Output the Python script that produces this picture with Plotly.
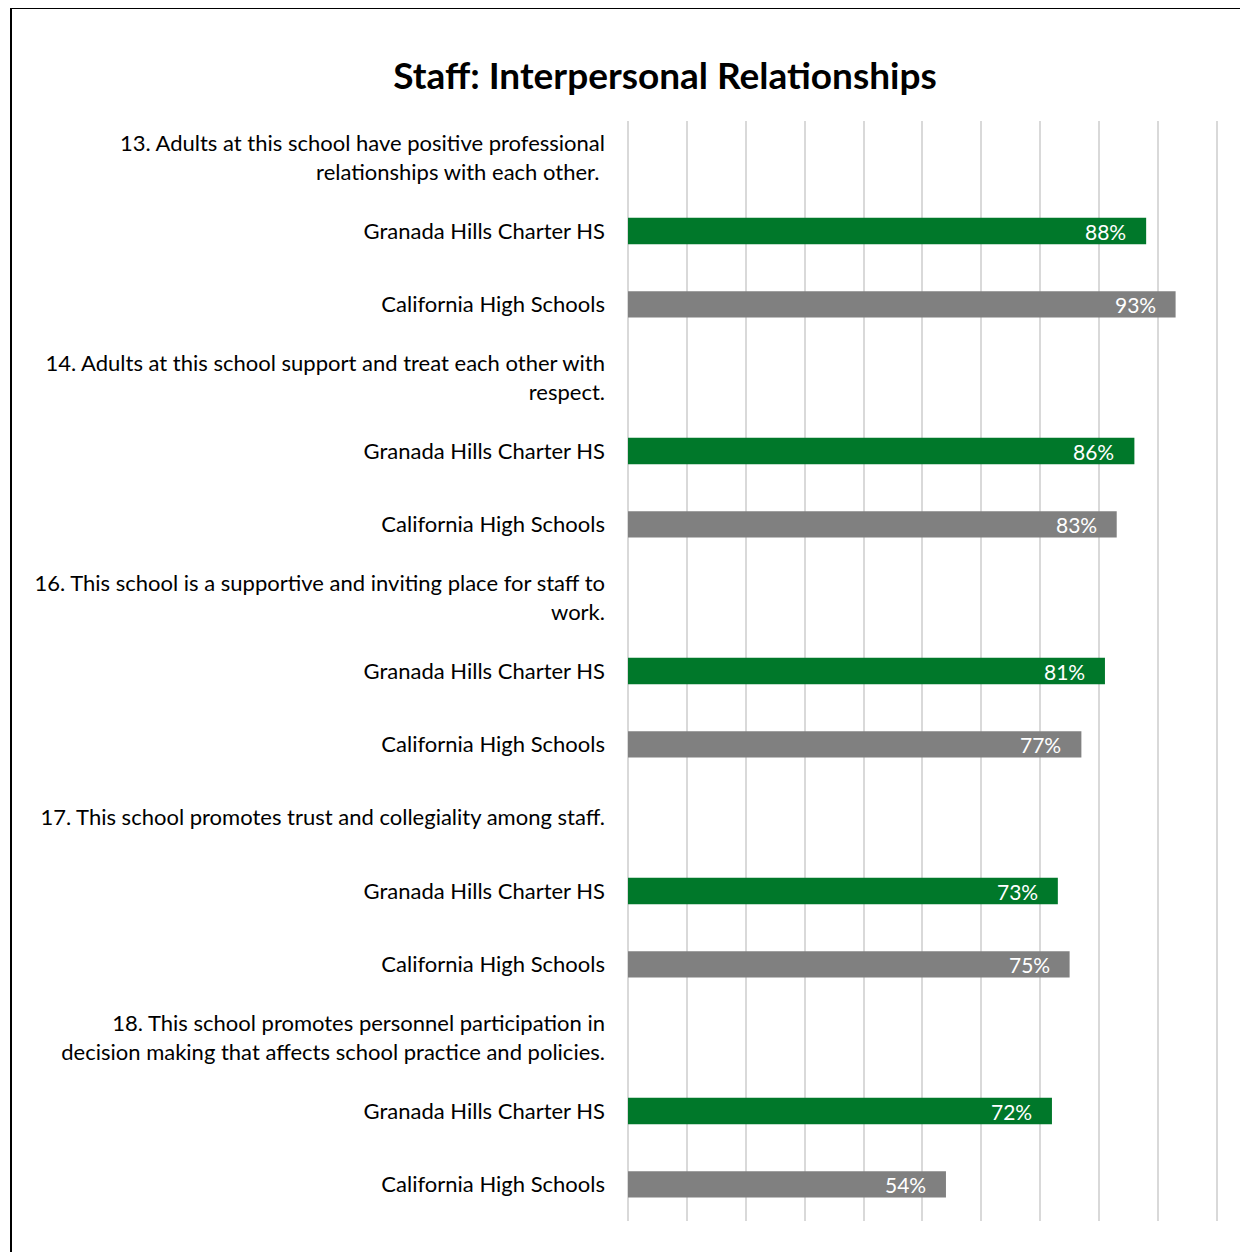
import plotly.graph_objects as go

title = "Staff: Interpersonal Relationships"
questions = [
    "13. Adults at this school have positive professional<br>relationships with each other.\u00a0",
    "14. Adults at this school support and treat each other with<br>respect.",
    "16. This school is a supportive and inviting place for staff to<br>work.",
    "17. This school promotes trust and collegiality among staff.",
    "18. This school promotes personnel participation in<br>decision making that affects school practice and policies.",
]
school_name = "Granada Hills Charter HS"
state_name = "California High Schools"
school_values = [0.88, 0.86, 0.81, 0.73, 0.72]
state_values = [0.93, 0.83, 0.77, 0.75, 0.54]

GREEN = "#00782A"
GREY = "#808080"
FONT = "Lato, 'Liberation Sans', sans-serif"
OFF = 8  # page body margin offset
W, H = 1248 - OFF, 1252 - OFF

tickvals, ticktext = [], []
school_y, state_y = [], []
for i, q in enumerate(questions):
    base = i * 3
    tickvals += [base, base + 1, base + 2]
    ticktext += [q, school_name, state_name]
    school_y.append(base + 1)
    state_y.append(base + 2)

fig = go.Figure()
fig.add_trace(go.Bar(x=school_values, y=school_y, orientation="h",
                     marker=dict(color=GREEN, line=dict(width=0)), width=0.36,
                     name=school_name, hoverinfo="x"))
fig.add_trace(go.Bar(x=state_values, y=state_y, orientation="h",
                     marker=dict(color=GREY, line=dict(width=0)), width=0.36,
                     name=state_name, hoverinfo="x"))

for xs, ys in ((school_values, school_y), (state_values, state_y)):
    for v, yy in zip(xs, ys):
        fig.add_annotation(x=v, y=yy, xref="x", yref="y", text=f"{round(v*100)}%",
                           showarrow=False, xanchor="right", xshift=-18,
                           font=dict(family=FONT, size=21, color="white"))

# outer frame
fig.add_shape(type="rect", xref="paper", yref="paper",
              x0=(11 - 628) / 590, x1=(1275 - 628) / 590,
              y0=(1221 - 1280) / 1100, y1=(1221 - 8) / 1100,
              line=dict(color="black", width=2), fillcolor="rgba(0,0,0,0)", layer="below")

fig.update_layout(
    width=W, height=H,
    margin=dict(l=628 - OFF, r=W - (1218 - OFF), t=121 - OFF, b=H - (1221 - OFF)),
    paper_bgcolor="white", plot_bgcolor="white",
    showlegend=False, barmode="overlay",
    title=dict(text=f"<b>{title}</b>", x=(665 - OFF) / W, xanchor="center", xref="container",
               y=1 - (76 - OFF) / H, yanchor="middle", yref="container",
               font=dict(family=FONT, size=37, color="black")),
    font=dict(family=FONT, size=22, color="black"),
)
fig.update_xaxes(range=[0, 1.002], dtick=0.1, tick0=0, showgrid=True, gridcolor="#d9d9d9",
                 gridwidth=2, zeroline=True, zerolinecolor="#d9d9d9", zerolinewidth=2,
                 showticklabels=False, showline=False, fixedrange=True)
fig.update_yaxes(range=[14.5, -0.5], tickmode="array", tickvals=tickvals, ticktext=ticktext,
                 showgrid=False, zeroline=False, showline=False, ticks="",
                 ticklabelstandoff=22, tickfont=dict(family=FONT, size=22, color="black"),
                 fixedrange=True)

fig.write_html("out.html")
